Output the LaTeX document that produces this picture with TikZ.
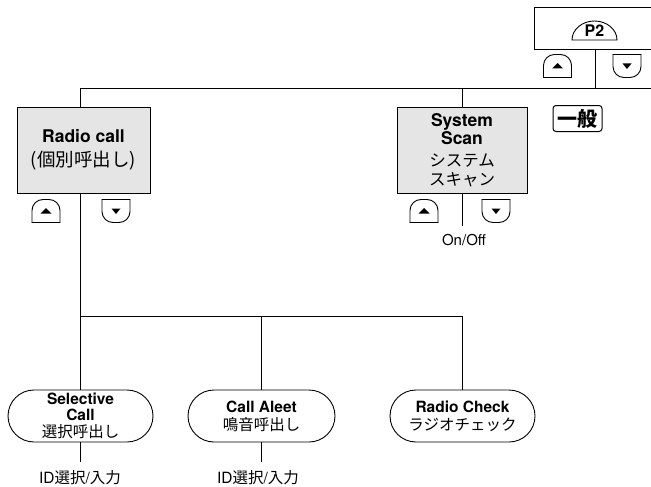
\documentclass[tikz,border=0pt]{standalone}
\usepackage{fontspec}
\setmainfont{TeX Gyre Heros}
\newfontfamily\jp{Noto Sans CJK JP}
\usetikzlibrary{shapes.misc}
\tikzset{
  line/.style={line width=0.9pt},
  graybox/.style={draw, line width=0.9pt, fill=gray!20, align=center, inner sep=0pt},
  stadium/.style={draw, line width=0.9pt, rounded rectangle, minimum width=145pt, minimum height=52pt, align=center, inner sep=0pt},
  plain/.style={inner sep=0pt, align=center},
  upbtn/.pic={
    \draw[line width=0.9pt, rounded corners=11pt, line cap=round] (-14,11.5) -- (-14,-11.5) -- (14,-11.5) -- (14,11.5);
    \draw[line width=0.9pt, line cap=round] (-14,11.5) -- (14,11.5);
    \fill (-5.5,2.5) -- (5.5,2.5) -- (0,-3) -- cycle;
  },
  downbtn/.pic={
    \draw[line width=0.9pt, rounded corners=11pt, line cap=round] (-14,-11.5) -- (-14,11.5) -- (14,11.5) -- (14,-11.5);
    \draw[line width=0.9pt, line cap=round] (-14,-11.5) -- (14,-11.5);
    \fill (-4.5,-2.5) -- (4.5,-2.5) -- (0,3) -- cycle;
  }
}
\begin{document}
\begin{tikzpicture}[x=1pt, y=-1pt]
\useasboundingbox (0,0) rectangle (651,487);

% P2 panel
\draw[line] (651,7) -- (534,7) -- (534,49) -- (651,49);
\draw[line] (572,40) arc[start angle=180, end angle=0, x radius=22.5pt, y radius=19pt] -- cycle;
\node[plain, font=\fontsize{16}{18}\bfseries] (p2) at (594.5,31) {P2};
\coordinate (divtop) at (595,49);
\coordinate (divbot) at (595,88);
\draw[line] (divtop) -- (divbot);
\pic at (557.5,66) {upbtn};
\pic at (627,66) {downbtn};

% top bus
\coordinate (busL) at (80,88);
\coordinate (busR) at (651,88);
\draw[line] (busL) -- (busR);

\node[draw, line width=1pt, rounded corners=3pt, minimum width=49pt, minimum height=26pt, inner sep=0pt, font=\jp\fontsize{20}{22}\bfseries] (ippan) at (577.5,118.5) {一般};

% Radio call
\node[graybox, minimum width=133pt, minimum height=86pt, font=\fontsize{17.5}{24}\selectfont] (rc) at (83.5,150)
  {{\bfseries Radio call}\\{\jp\fontsize{18.5}{24}\selectfont (個別呼出し)}};
\draw[line] (busL) -- (busL |- rc.north);
\pic at (46,211) {upbtn};
\pic at (116,211) {downbtn};

% System Scan
\node[graybox, minimum width=130pt, minimum height=86pt, font=\fontsize{17.5}{18}\selectfont] (ss) at (462,150)
  {{\bfseries System}\\{\bfseries Scan}\\[4pt]{\jp\fontsize{16.5}{18}\selectfont システム}\\[1pt]{\jp\fontsize{16.5}{18}\selectfont スキャン}};
\draw[line] (ss.north |- busL) -- (ss.north);
\coordinate (ssend) at (462,226);
\draw[line] (ss.south) -- (ssend);
\pic at (424,211) {upbtn};
\pic at (496,211) {downbtn};
\node[plain, font=\fontsize{15}{16}\selectfont] (onoff) at (464,240) {On/Off};

% lower bus
\coordinate (rcbot) at (80,193);
\coordinate (bus2L) at (80,316);
\coordinate (bus2R) at (462,316);
\draw[line] (rcbot) -- (bus2L) -- (bus2R);

% stadiums
\node[stadium, font=\fontsize{15.5}{16}\selectfont] (sel) at (80.5,416)
  {{\bfseries Selective}\\{\bfseries Call}\\[1pt]{\jp\fontsize{15.5}{16}\selectfont 選択呼出し}};
\node[stadium, minimum width=147pt, font=\fontsize{15.5}{18}\selectfont] (ca) at (261.5,416)
  {{\bfseries Call Aleet}\\{\jp\fontsize{15.5}{18}\selectfont 鳴音呼出し}};
\node[stadium, font=\fontsize{15.5}{18}\selectfont] (rck) at (462.5,416)
  {{\bfseries Radio Check}\\{\jp\fontsize{15.5}{18}\selectfont ラジオチェック}};

\coordinate (b2m) at (261,316);
\draw[line] (bus2L) -- (bus2L |- sel.north);
\draw[line] (b2m) -- (b2m |- ca.north);
\draw[line] (bus2R) -- (bus2R |- rck.north);

% bottom labels
\node[plain, font=\fontsize{15.5}{18}\selectfont] (id1) at (80,478) {ID{\jp 選択}/{\jp 入力}};
\node[plain, font=\fontsize{15.5}{18}\selectfont] (id2) at (258,478) {ID{\jp 選択}/{\jp 入力}};
\coordinate (l1) at (80,462);
\coordinate (l2) at (261,462);
\draw[line] (sel.south -| l1) -- (l1);
\draw[line] (ca.south -| l2) -- (l2);
\end{tikzpicture}
\end{document}
